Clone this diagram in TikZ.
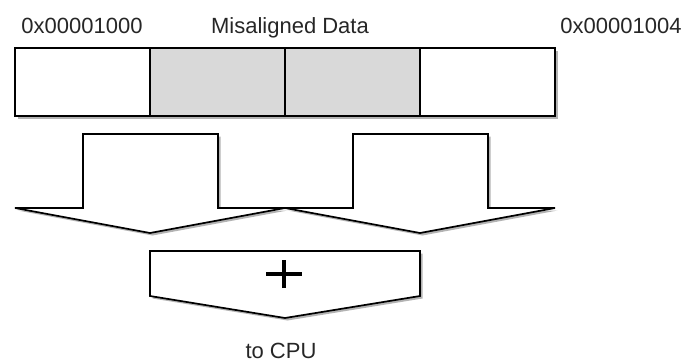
\documentclass[tikz,border=0pt]{standalone}
\usepackage{fontspec}
\setmainfont{Liberation Sans}
\usetikzlibrary{shadows}
\begin{document}
\begin{tikzpicture}[x=1pt,y=-1pt,
  outl/.style={draw=black,line width=1.7pt,line join=miter},
  shad/.style={drop shadow={shadow xshift=2.5pt,shadow yshift=-2.5pt,opacity=0.4,fill=black!75}},
  lbl/.style={font=\fontsize{22}{26}\selectfont,text=black!85,inner sep=0pt,anchor=base}]
\useasboundingbox (0,0) rectangle (685,362);
% labels
\node[lbl] (a0) at (82,33) {0x00001000};
\node[lbl] (md) at (290,33) {Misaligned Data};
\node[lbl] (a4) at (621,33) {0x00001004};
% memory bar
\path[shad,fill=white] (15,48) rectangle (555,116);
\path[fill=white] (15,48) rectangle (150,116);
\path[fill=black!15] (150,48) rectangle (420,116);
\foreach \x in {150,285,420} \draw[outl] (\x,48) -- (\x,116);
\draw[outl] (15,48) rectangle (555,116);
% arrows
\foreach \d in {0,270}{
  \draw[outl,fill=white,shad] ({83+\d},134) -- ({218+\d},134) -- ({218+\d},208) -- ({285+\d},208) -- ({150+\d},233) -- ({15+\d},208) -- ({83+\d},208) -- cycle;
}
% adder
\draw[outl,fill=white,shad] (150,251) -- (420,251) -- (420,296) -- (285,318) -- (150,296) -- cycle;
\coordinate (pc) at (284,274);
\draw[line width=4.5pt] ([xshift=-18pt]pc) -- ([xshift=18pt]pc);
\draw[line width=4.5pt] ([yshift=-14pt]pc) -- ([yshift=14pt]pc);
\node[lbl] (cpu) at (281,358) {to CPU};
\end{tikzpicture}
\end{document}
